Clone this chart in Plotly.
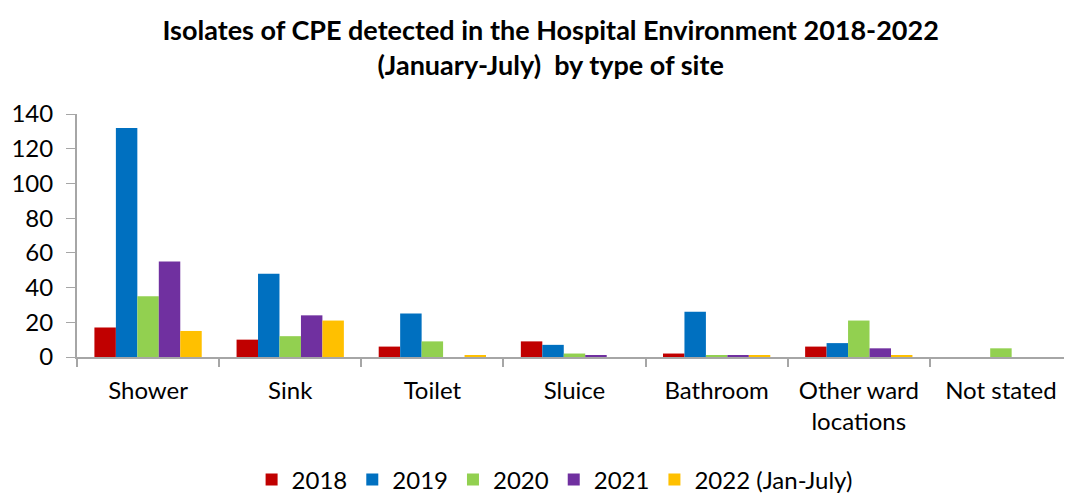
import plotly.graph_objects as go

categories = ["Shower", "Sink", "Toilet", "Sluice", "Bathroom", "Other ward<br>locations", "Not stated"]
series_names = ["2018", "2019", "2020", "2021", "2022 (Jan-July)"]
v2018 = [17, 10, 6, 9, 2, 6, 0]
v2019 = [132, 48, 25, 7, 26, 8, 0]
v2020 = [35, 12, 9, 2, 1, 21, 5]
v2021 = [55, 24, 0, 1, 1, 5, 0]
v2022 = [15, 21, 1, 0, 1, 1, 0]
colors = ["#C00000", "#0070C0", "#92D050", "#7030A0", "#FFC000"]
y_ticks = [0, 20, 40, 60, 80, 100, 120, 140]

FONT = "Lato, Calibri, Carlito, sans-serif"

fig = go.Figure()
for name, vals, col in zip(series_names, [v2018, v2019, v2020, v2021, v2022], colors):
    fig.add_trace(go.Bar(name=name, x=categories, y=vals, marker=dict(color=col, line=dict(width=0))))

fig.update_layout(
    width=1064, height=485,
    barmode="group", bargap=0.245, bargroupgap=0,
    plot_bgcolor="white", paper_bgcolor="white",
    font=dict(family=FONT, size=24, color="black"),
    margin=dict(l=69, r=0, t=106, b=136, autoexpand=False),
    title=dict(
        text="<b>Isolates of CPE detected in the Hospital Environment 2018-2022<br>(January-July)  by type of site</b>",
        x=0.51, xanchor="center", y=0.934, yanchor="top",
        font=dict(family=FONT, size=27, color="black"),
    ),
    legend=dict(orientation="h", x=0.48, xanchor="center", y=-0.506, yanchor="middle",
                font=dict(size=24), itemwidth=30, traceorder="normal"),
    xaxis=dict(showline=True, linecolor="#A6A6A6", linewidth=2, ticks="outside",
               tickson="boundaries", ticklen=8, tickcolor="#A6A6A6", tickwidth=2,
               showgrid=False, tickfont=dict(size=24), automargin=False,
               ticklabelstandoff=11),
    yaxis=dict(range=[0, 140], tickvals=y_ticks, showline=True, linecolor="#A6A6A6", linewidth=2,
               ticks="outside", ticklen=9, tickcolor="#A6A6A6", showgrid=False,
               tickfont=dict(size=24), zeroline=False, automargin=False,
               ticklabelstandoff=8),
)

fig.write_html("out.html")
